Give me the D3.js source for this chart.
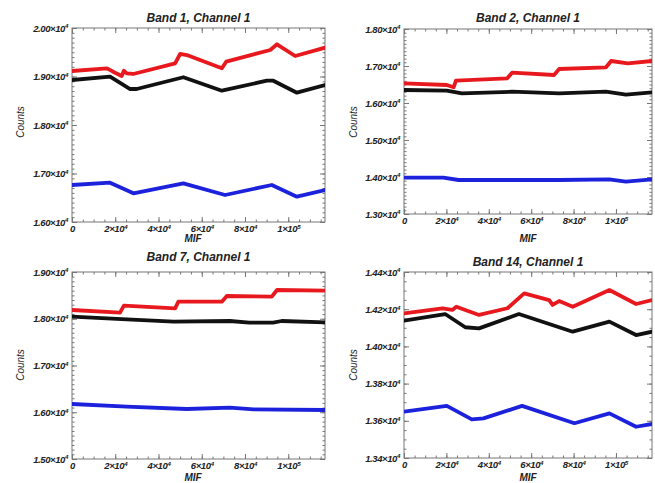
<!DOCTYPE html>
<html>
<head>
<meta charset="utf-8">
<script src="https://cdn.jsdelivr.net/npm/d3@7"></script>
<style>
  body { margin: 0; background: #fff; }
  svg text { font-family: "Liberation Sans", Arial, sans-serif; font-style: italic; }
</style>
</head>
<body>
<svg id="chart" width="655" height="483"></svg>
<script>
// ---- data (MIF, counts) ----
const mifTicks = [0, 20000, 40000, 60000, 80000, 100000];
const mifTickLabels = ["0", "2×10^4", "4×10^4", "6×10^4", "8×10^4", "1×10^5"];
const mifMax = 117000;

const band1Ticks = [16000, 17000, 18000, 19000, 20000];
const band1Labels = ["1.60×10^4", "1.70×10^4", "1.80×10^4", "1.90×10^4", "2.00×10^4"];
const band1Red = [[0,19113],[16200,19169],[19000,19099],[23000,19010],[24000,19120],[25300,19066],[28300,19052],
  [47700,19272],[50000,19464],[53100,19443],[69300,19169],[71300,19305],[91700,19546],[94800,19664],[103200,19423],[117000,19594]];
const band1Black = [[0,18928],[17600,18996],[26900,18742],[29900,18742],[51500,18984],[69300,18707],[90100,18913],
  [93100,18913],[104000,18666],[117000,18825]];
const band1Blue = [[0,16763],[17600,16810],[28400,16592],[51500,16798],[70800,16557],[92400,16763],[104000,16522],[117000,16660]];

const band2Ticks = [13000, 14000, 15000, 16000, 17000, 18000];
const band2Labels = ["1.30×10^4", "1.40×10^4", "1.50×10^4", "1.60×10^4", "1.70×10^4", "1.80×10^4"];
const band2Red = [[0,16532],[20200,16486],[23400,16424],[24500,16603],[48700,16667],[51000,16819],[70800,16757],
  [73200,16919],[95300,16965],[97700,17135],[105600,17073],[117000,17135]];
const band2Black = [[0,16351],[20200,16333],[27300,16262],[51000,16305],[73200,16262],[95300,16305],[104700,16224],[117000,16289]];
const band2Blue = [[0,13981],[18600,13981],[25700,13919],[73200,13919],[96800,13938],[104700,13873],[117000,13938]];

const band7Ticks = [15000, 16000, 17000, 18000, 19000];
const band7Labels = ["1.50×10^4", "1.60×10^4", "1.70×10^4", "1.80×10^4", "1.90×10^4"];
const band7Red = [[0,18187],[22200,18130],[24000,18280],[47700,18223],[49200,18365],[69300,18365],[71600,18487],
  [92400,18472],[94800,18615],[117000,18601]];
const band7Black = [[0,18044],[25300,17988],[47000,17937],[73000,17952],[82000,17916],[93000,17916],[97000,17952],[117000,17924]];
const band7Blue = [[0,16176],[25300,16119],[53100,16070],[73000,16098],[84000,16063],[117000,16048]];

const band14Ticks = [13400, 13600, 13800, 14000, 14200, 14400];
const band14Labels = ["1.34×10^4", "1.36×10^4", "1.38×10^4", "1.40×10^4", "1.42×10^4", "1.44×10^4"];
const band14Red = [[0,14178],[18100,14205],[22800,14196],[24700,14213],[35400,14169],[48800,14205],[56700,14285],
  [68500,14249],[70100,14223],[73200,14244],[79600,14213],[96900,14303],[109500,14228],[117000,14249]];
const band14Black = [[0,14138],[19400,14174],[28900,14103],[35400,14097],[54200,14174],[79600,14079],[96900,14133],
  [109500,14061],[117000,14079]];
const band14Blue = [[0,13649],[20200,13680],[32000,13608],[37500,13613],[55700,13680],[80400,13587],[96900,13640],
  [109500,13568],[117000,13583]];

// ---- layout ----
const panels = [
  { title: "Band 1, Channel 1", ticks: band1Ticks, labels: band1Labels, minor: 100, series: [band1Red, band1Black, band1Blue],
    left: 72, right: 325, top: 28, bottom: 222, titleY: 22, countsX: 20, countsY: 122, mifX: 193, mifY: 242 },
  { title: "Band 2, Channel 1", ticks: band2Ticks, labels: band2Labels, minor: 100, series: [band2Red, band2Black, band2Blue],
    left: 404, right: 652, top: 29, bottom: 214, titleY: 22, countsX: 353, countsY: 122, mifX: 528, mifY: 242 },
  { title: "Band 7, Channel 1", ticks: band7Ticks, labels: band7Labels, minor: 100, series: [band7Red, band7Black, band7Blue],
    left: 72, right: 325, top: 272, bottom: 459, titleY: 261, countsX: 20, countsY: 365, mifX: 193, mifY: 481 },
  { title: "Band 14, Channel 1", ticks: band14Ticks, labels: band14Labels, minor: 50, series: [band14Red, band14Black, band14Blue],
    left: 404, right: 652, top: 272, bottom: 458, titleY: 266, countsX: 353, countsY: 365, mifX: 528, mifY: 481 }
];
const colors = ["#e8191e", "#111111", "#1c22dc"];
const frameColor = "#777";

const svg = d3.select("#chart");

function superscript(sel) {
  sel.each(function () {
    const t = d3.select(this);
    const parts = t.text().split("^");
    t.text(parts[0]);
    if (parts[1]) t.append("tspan").attr("dy", "-0.5em").attr("font-size", "0.65em").text(parts[1]);
  });
}

function styleAxis(g) {
  g.select(".domain").remove();
  g.selectAll("line").attr("stroke", frameColor);
  g.selectAll("text").attr("font-family", "Liberation Sans, Arial, sans-serif")
    .attr("font-size", 9.5).attr("letter-spacing", -0.4).attr("font-weight", "bold")
    .attr("font-style", "italic").attr("fill", "#222");
}

panels.forEach((p, i) => {
  const x = d3.scaleLinear().domain([0, mifMax]).range([p.left, p.right]);
  const y = d3.scaleLinear().domain([p.ticks[0], p.ticks[p.ticks.length - 1]]).range([p.bottom, p.top]);
  const g = svg.append("g");

  const minorX = d3.range(0, mifMax + 1, 5000);
  const minorY = d3.range(p.ticks[0], p.ticks[p.ticks.length - 1] + 1, p.minor);

  // minor ticks on all four sides
  g.append("g").attr("transform", `translate(0,${p.bottom})`).call(d3.axisBottom(x).tickValues(minorX).tickSize(-2.5).tickFormat("")).call(styleAxis);
  g.append("g").attr("transform", `translate(0,${p.top})`).call(d3.axisTop(x).tickValues(minorX).tickSize(-2.5).tickFormat("")).call(styleAxis);
  g.append("g").attr("transform", `translate(${p.left},0)`).call(d3.axisLeft(y).tickValues(minorY).tickSize(-2.5).tickFormat("")).call(styleAxis);
  g.append("g").attr("transform", `translate(${p.right},0)`).call(d3.axisRight(y).tickValues(minorY).tickSize(-2.5).tickFormat("")).call(styleAxis);

  // major ticks
  g.append("g").attr("transform", `translate(0,${p.bottom})`)
    .call(d3.axisBottom(x).tickValues(mifTicks).tickSize(-5).tickPadding(3).tickFormat((d, k) => mifTickLabels[k]))
    .call(styleAxis).selectAll("text").call(superscript);
  g.append("g").attr("transform", `translate(0,${p.top})`).call(d3.axisTop(x).tickValues(mifTicks).tickSize(-5).tickFormat("")).call(styleAxis);
  g.append("g").attr("transform", `translate(${p.left},0)`)
    .call(d3.axisLeft(y).tickValues(p.ticks).tickSize(-5).tickPadding(4).tickFormat((d, k) => p.labels[k]))
    .call(styleAxis).selectAll("text").call(superscript);
  g.append("g").attr("transform", `translate(${p.right},0)`).call(d3.axisRight(y).tickValues(p.ticks).tickSize(-5).tickFormat("")).call(styleAxis);

  // frame
  g.append("rect").attr("x", p.left).attr("y", p.top).attr("width", p.right - p.left).attr("height", p.bottom - p.top)
    .attr("fill", "none").attr("stroke", frameColor).attr("stroke-width", 1);

  // lines
  svg.append("clipPath").attr("id", "clip" + i).append("rect")
    .attr("x", p.left).attr("y", p.top).attr("width", p.right - p.left).attr("height", p.bottom - p.top);
  const line = d3.line().x(d => x(d[0])).y(d => y(d[1]));
  g.append("g").attr("clip-path", `url(#clip${i})`).selectAll("path").data(p.series).join("path")
    .attr("d", line).attr("fill", "none").attr("stroke", (d, k) => colors[k])
    .attr("stroke-width", 3.8).attr("stroke-linejoin", "round").attr("stroke-linecap", "round");

  // texts
  g.append("text").attr("x", (p.left + p.right) / 2).attr("y", p.titleY).attr("text-anchor", "middle")
    .attr("font-size", 12).attr("font-weight", "bold").attr("fill", "#222").text(p.title);
  g.append("text").attr("transform", `translate(${p.countsX + 3.5},${p.countsY}) rotate(-90)`).attr("text-anchor", "middle")
    .attr("font-size", 10).attr("fill", "#222").text("Counts");
  g.append("text").attr("x", p.mifX).attr("y", p.mifY).attr("text-anchor", "middle")
    .attr("font-size", 10).attr("font-weight", "bold").attr("fill", "#222").text("MIF");
});
</script>
</body>
</html>
